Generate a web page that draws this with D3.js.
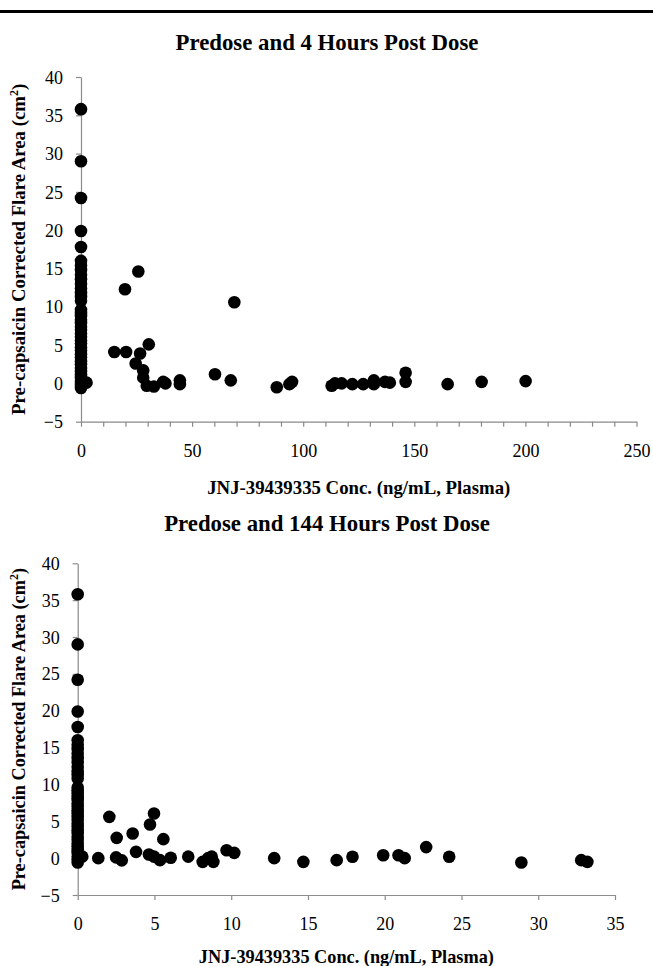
<!DOCTYPE html>
<html>
<head>
<meta charset="utf-8">
<script src="https://cdn.jsdelivr.net/npm/d3@7"></script>
<style>
  body { margin: 0; background: #fff; }
  svg { display: block; }
  text { font-family: "Liberation Serif", "Tinos", "Times New Roman", Times, "DejaVu Serif", serif; fill: #000; }
</style>
</head>
<body>
<svg id="chart" width="653" height="966"></svg>
<script>
// predose values, all drawn at concentration 0 in both panels
var predoseFlare = [35.8, 29.0, 24.2, 19.9, 17.8, 16.0, 15.4, 14.8, 14.2, 13.6, 13.0, 12.4, 11.8,
  11.3, 10.8, 9.6, 9.2, 8.8, 8.3, 7.9, 7.4, 7.0, 6.5, 6.1, 5.6, 5.2, 4.7, 4.3, 3.8, 3.4, 2.9,
  2.5, 2.0, 1.6, 1.1, 0.7, 0.2, -0.2, -0.6];

// 4 hours post dose
var conc4h = [2.5, 15.0, 19.8, 20.3, 24.6, 25.8, 26.6, 28.0, 28.0, 29.6, 30.5, 32.8, 37.0, 38.0,
  44.5, 44.5, 60.3, 67.4, 69.0, 88.1, 93.8, 95.0, 112.8, 114.3, 117.3, 122.1, 127.0, 131.8,
  131.8, 136.8, 139.0, 146.1, 146.1, 165.0, 180.3, 200.1];
var flare4h = [0.1, 4.1, 12.3, 4.1, 2.6, 14.6, 3.9, 1.7, 0.75, -0.3, 5.1, -0.4, 0.2, 0.0,
  0.4, -0.1, 1.2, 0.4, 10.6, -0.5, -0.1, 0.2, -0.3, 0.0, 0.0, -0.1, -0.1, 0.4,
  -0.1, 0.2, 0.1, 1.4, 0.2, -0.1, 0.2, 0.3];

// 144 hours post dose
var conc144h = [0.3, 1.34, 2.06, 2.54, 2.5, 2.87, 3.58, 3.8, 4.71, 4.97, 4.64, 4.97, 5.58, 5.36,
  6.06, 7.2, 8.14, 8.5, 8.73, 8.84, 9.7, 10.2, 12.8, 14.7, 16.87, 17.9, 19.9, 20.9, 21.3,
  22.7, 24.2, 28.9, 32.8, 33.2];
var flare144h = [0.2, 0.0, 5.6, 2.75, 0.1, -0.3, 3.35, 0.85, 4.57, 6.06, 0.5, 0.2, 2.58, -0.27,
  0.05, 0.2, -0.5, 0.0, 0.2, -0.5, 1.08, 0.72, 0.0, -0.5, -0.27, 0.18, 0.4, 0.4, 0.0,
  1.5, 0.18, -0.6, -0.27, -0.5];

var yTicks = [-5, 0, 5, 10, 15, 20, 25, 30, 35, 40];
var xTicks4h = d3.range(0, 251, 10);
var xLabels4h = [0, 50, 100, 150, 200, 250];
var xTicks144h = [0, 5, 10, 15, 20, 25, 30, 35];

var titles = ['Predose and 4 Hours Post Dose', 'Predose and 144 Hours Post Dose'];
var xTitle = 'JNJ-39439335 Conc. (ng/mL, Plasma)';

var svg = d3.select('#chart');
var axisColor = '#8a8a8a';
var serif = '"Liberation Serif", "Tinos", "Times New Roman", Times, "DejaVu Serif", serif';

// heavy rule across the top
svg.append('line')
    .attr('x1', 0).attr('x2', 653)
    .attr('y1', 11.5).attr('y2', 11.5)
    .attr('stroke', '#000')
    .attr('stroke-width', 3.2);

function zip(xs, ys) {
    return xs.map(function (x, i) { return { x: x, y: ys[i] }; });
}

function drawPanel(p) {
    var x = d3.scaleLinear().domain(p.xDomain).range(p.xRange);
    var y = d3.scaleLinear().domain([-5, 40]).range(p.yRange);
    var g = svg.append('g');
    var plotMidX = (p.xRange[0] + p.xRange[1]) / 2;
    var plotMidY = (p.yRange[0] + p.yRange[1]) / 2;

    g.append('text')
        .attr('x', 327).attr('y', p.titleY)
        .attr('text-anchor', 'middle')
        .style('font-family', serif)
        .style('font-size', '22.8px')
        .style('font-weight', 'bold')
        .text(p.title);

    var yAxis = g.append('g')
        .attr('transform', 'translate(' + p.xRange[0] + ',0)')
        .call(d3.axisLeft(y).tickValues(yTicks).tickSize(5).tickSizeOuter(0).tickPadding(13));
    var xAxis = g.append('g')
        .attr('transform', 'translate(0,' + p.yRange[0] + ')')
        .call(d3.axisBottom(x).tickValues(p.xTicks).tickSize(5).tickSizeOuter(0)
            .tickFormat(function (d) { return p.xLabels.indexOf(d) >= 0 ? d : ''; }));

    [yAxis, xAxis].forEach(function (a) {
        a.attr('font-family', null);
        a.select('.domain').attr('stroke', axisColor).attr('stroke-width', 1.2);
        a.selectAll('.tick line').attr('stroke', axisColor).attr('stroke-width', 1.2);
        a.selectAll('.tick text')
            .style('font-family', serif)
            .style('font-size', '18px')
            .attr('fill', '#000');
    });
    yAxis.selectAll('.tick text').attr('dy', '0.34em');
    xAxis.selectAll('.tick text').attr('y', 35).attr('dy', 0);

    g.append('text')
        .attr('x', plotMidX).attr('y', p.xTitleY)
        .attr('text-anchor', 'middle')
        .style('font-family', serif)
        .style('font-size', p.axisTitleSize + 'px')
        .style('font-weight', 'bold')
        .text(xTitle);

    var yt = g.append('text')
        .attr('transform', 'translate(25,' + plotMidY + ') rotate(-90)')
        .attr('text-anchor', 'middle')
        .style('font-family', serif)
        .style('font-size', p.axisTitleSize + 'px')
        .style('font-weight', 'bold');
    yt.append('tspan').text('Pre-capsaicin Corrected Flare Area (cm');
    yt.append('tspan').attr('dy', -7).style('font-size', '12px').text('2');
    yt.append('tspan').attr('dy', 7).text(')');

    var pts = zip(predoseFlare.map(function () { return 0; }), predoseFlare).concat(p.points);
    g.append('g').selectAll('circle')
        .data(pts)
        .enter().append('circle')
        .attr('cx', function (d) { return x(d.x); })
        .attr('cy', function (d) { return y(d.y); })
        .attr('r', 6.3)
        .attr('fill', '#000');
}

drawPanel({
    title: titles[0], titleY: 50,
    xDomain: [0, 250], xRange: [81, 636.5], yRange: [421.7, 77],
    xTicks: xTicks4h, xLabels: xLabels4h,
    xTitleY: 494, axisTitleSize: 18.8,
    points: zip(conc4h, flare4h)
});

drawPanel({
    title: titles[1], titleY: 531,
    xDomain: [0, 35], xRange: [77.7, 615], yRange: [895, 563.3],
    xTicks: xTicks144h, xLabels: xTicks144h,
    xTitleY: 963, axisTitleSize: 18.3,
    points: zip(conc144h, flare144h)
});
</script>
</body>
</html>
